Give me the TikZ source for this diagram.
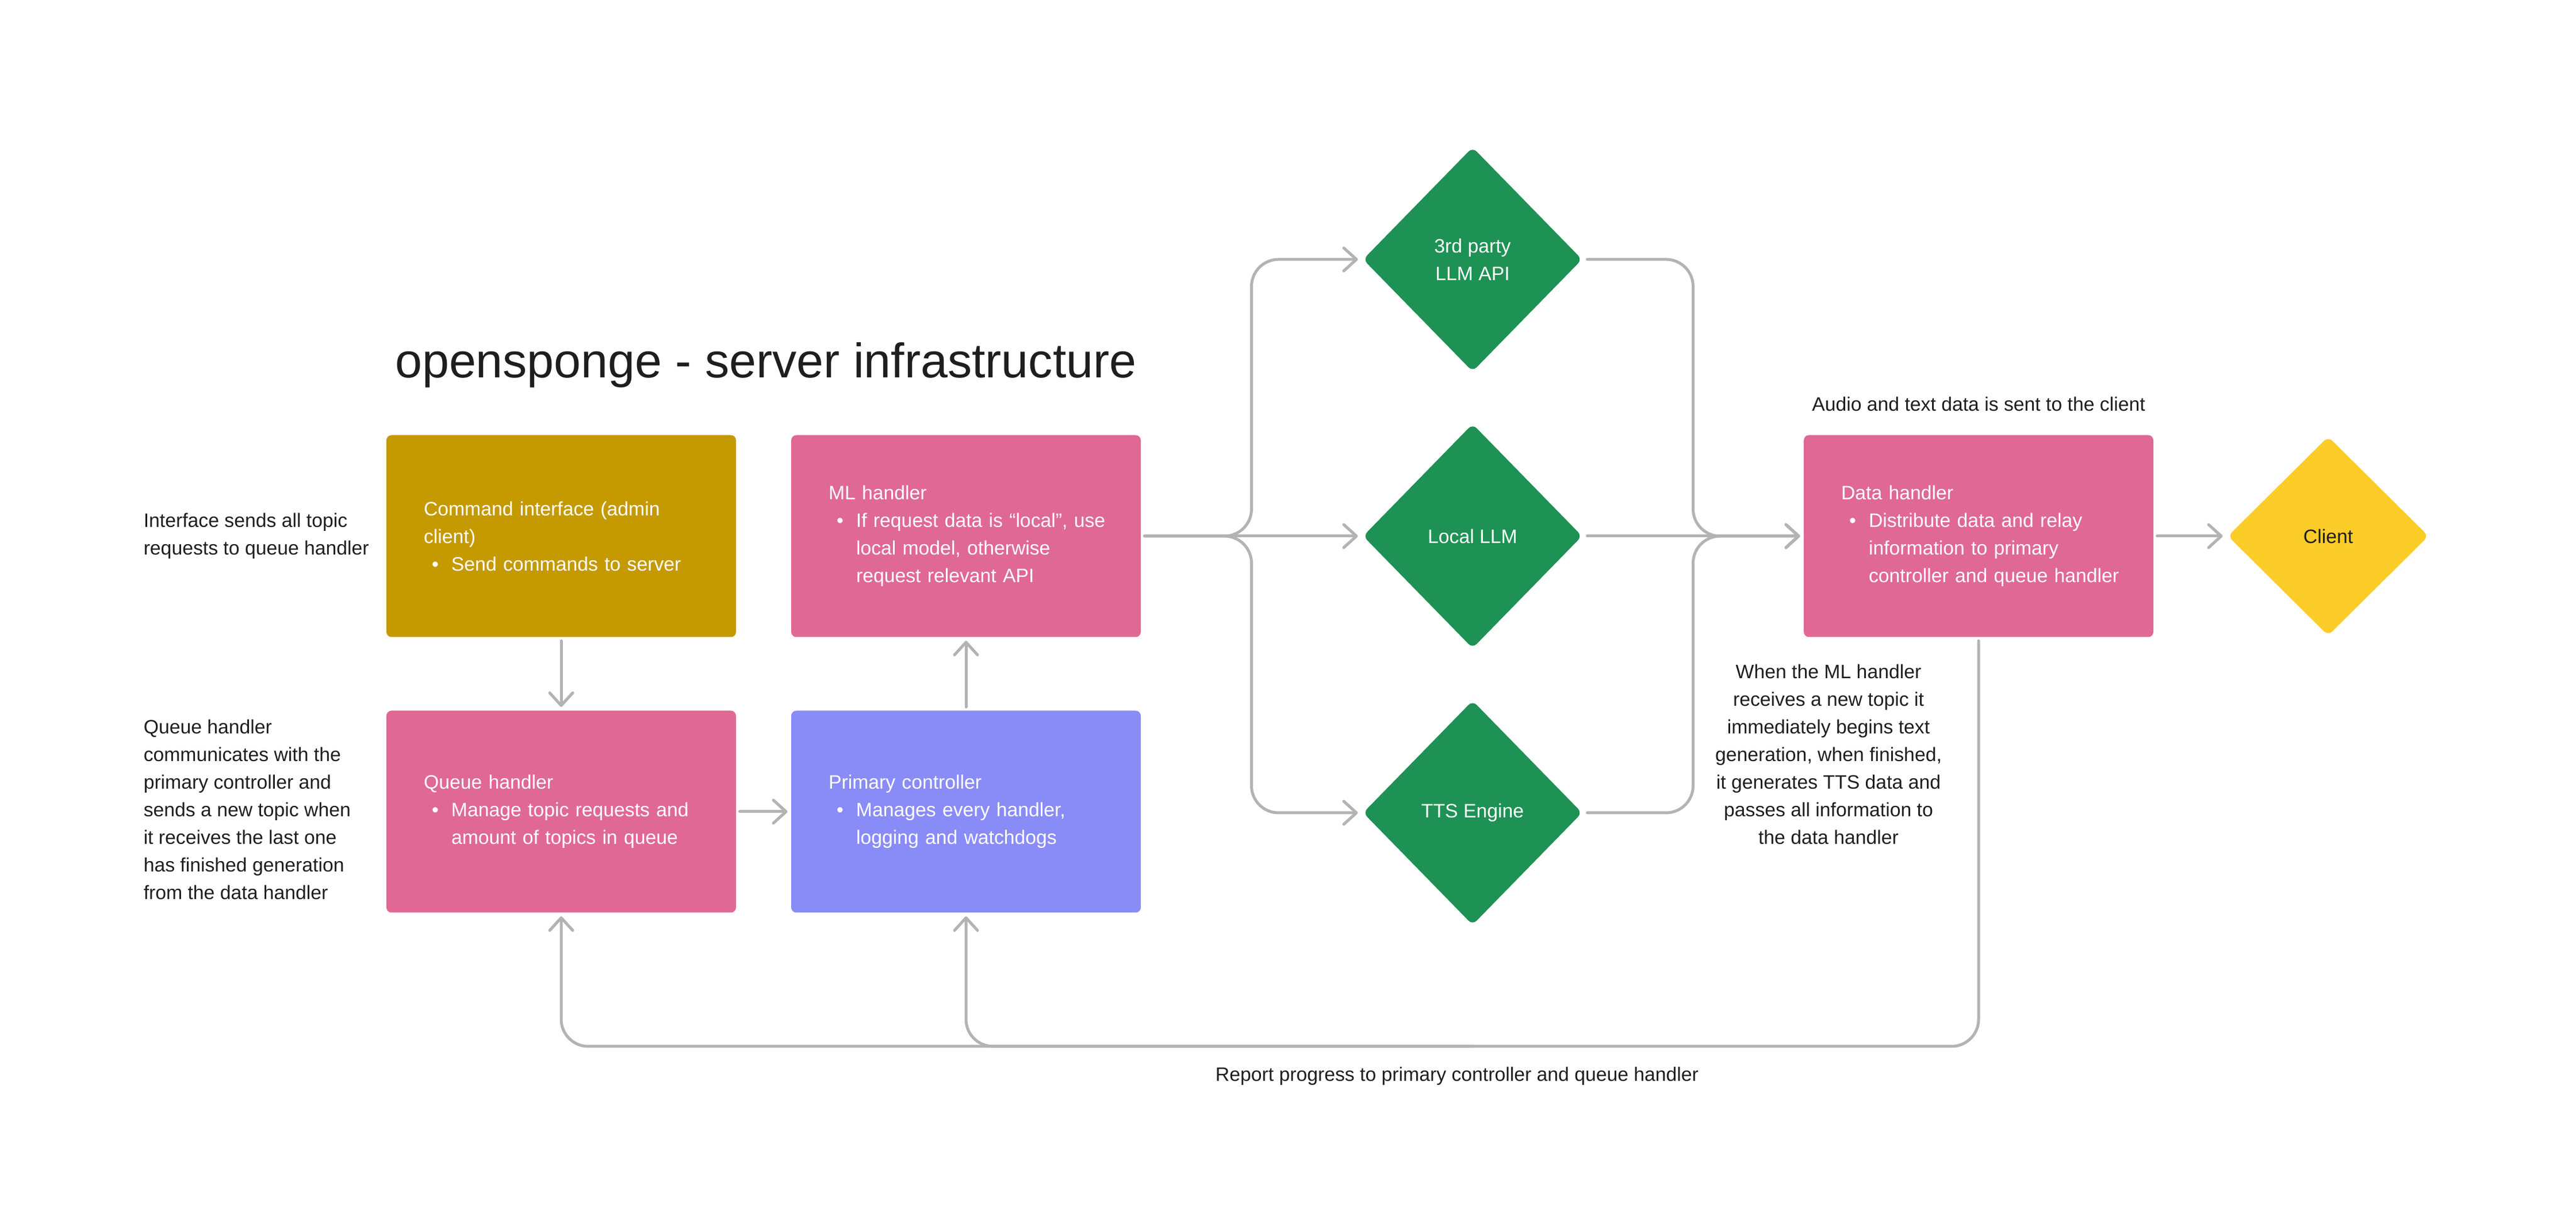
\documentclass[tikz,border=0pt]{standalone}
\usepackage{fontspec}
\setmainfont{Liberation Sans}
\usepackage{tikz}
\usetikzlibrary{positioning,arrows.meta,shapes.geometric}
\definecolor{fontdark}{RGB}{30,30,30}
\definecolor{cmdgold}{RGB}{197,153,0}
\definecolor{handlerpink}{RGB}{224,104,148}
\definecolor{ctrlviolet}{RGB}{137,140,246}
\definecolor{modelgreen}{RGB}{30,145,84}
\definecolor{clientyellow}{RGB}{252,204,41}
\definecolor{linegray}{RGB}{179,179,179}
\newcommand{\bitem}[1]{\par\noindent\hspace*{1.4mm}\makebox[3.4mm][l]{\textbullet}\parbox[t]{45mm}{#1}\par}

\begin{document}
\begin{tikzpicture}[node distance=8.3mm and 8.3mm,
			box/.style={rectangle, rounded corners=0.9mm, minimum width=60.8mm, minimum height=35.1mm, text width=47.8mm, align=left, inner sep=0pt, outer sep=0.65mm, text=white, font=\fontsize{9.6}{13.66}\selectfont},
			model/.style={diamond, rounded corners=1mm, minimum width=38.6mm, minimum height=39.5mm, inner sep=0pt, outer sep=0.65mm, fill=modelgreen, text=white, align=center, font=\fontsize{9.6}{13.66}\selectfont},
			note/.style={draw=none, inner sep=0pt, text=fontdark, align=left, font=\fontsize{9.6}{13.66}\selectfont},
			heading/.style={draw=none, inner sep=0pt, text=fontdark, font=\fontsize{24}{28}\selectfont},
			flow/.style={draw=linegray, line width=0.5mm, line cap=round, rounded corners=4.7mm, -{Straight Barb[length=2.2mm, width=4mm, round]}}
			]
			\useasboundingbox (0,0) rectangle (448mm,214mm);
			
			\node[box, fill=cmdgold](cmd) at (97.6mm,120.8mm) {Command interface (admin\\client)\par\bitem{Send commands to server}};
			\node[box, fill=handlerpink](ml) [right = of cmd] {ML handler\par\bitem{If request data is “local”, use\\local model, otherwise\\request relevant API}};
			\node[box, fill=handlerpink](queue) [below = 11.5mm of cmd] {Queue handler\par\bitem{Manage topic requests and\\amount of topics in queue}};
			\node[box, fill=ctrlviolet](primary) [right = of queue] {Primary controller\par\bitem{Manages every handler,\\logging and watchdogs}};
			
			\node[heading, anchor=base west](title) at ([xshift=2.1mm, yshift=9.3mm]cmd.north west) {opensponge - server infrastructure};
			
			\node[model](local) [right = 37.1mm of ml] {Local LLM};
			\node[model](api) [above = 7.3mm of local] {3rd party\\LLM API};
			\node[model](tts) [below = 7.3mm of local] {TTS Engine};
			
			\node[box, fill=handlerpink](data) [right = 37.0mm of local] {Data handler\par\bitem{Distribute data and relay\\information to primary\\controller and queue handler}};
			\node[model, fill=clientyellow, text=fontdark, minimum width=35.4mm, minimum height=35.1mm](client) [right = 11.4mm of data] {Client};
			
			% notes
			\node[note](noteCmd) [left = 2.3mm of cmd] {Interface sends all topic\\requests to queue handler};
			\node[note, anchor=west](noteQueue) at ([yshift=0.4mm]noteCmd.west |- queue) {Queue handler\\communicates with the\\primary controller and\\sends a new topic when\\it receives the last one\\has finished generation\\from the data handler};
			\node[note](noteAudio) [above = 3.4mm of data] {Audio and text data is sent to the client};
			\node[note, align=center, xshift=-26.1mm](noteMl) [below = 4.0mm of data] {When the ML handler\\receives a new topic it\\immediately begins text\\generation, when finished,\\it generates TTS data and\\passes all information to\\the data handler};
			
			% junctions
			\coordinate[right = 18.6mm of ml.east](fanL);
			\coordinate[right = 18.4mm of local.east](fanR);
			\coordinate (retR) at ([yshift=-70.5mm]data.south);
			\coordinate (retM) at (tts |- retR);
			
			\node[note](noteReport) at ([xshift=-2.7mm, yshift=-5.2mm]retM) {Report progress to primary controller and queue handler};
			
			\draw[flow] (cmd) -- (queue);
			\draw[flow] (queue) -- (primary);
			\draw[flow] (primary) -- (ml);
			
			\draw[flow] (ml.east) -- (fanL) |- (api.west);
			\draw[flow] (ml.east) -- (local.west);
			\draw[flow] (ml.east) -- (fanL) |- (tts.west);
			
			\draw[flow] (api.east) -| (fanR) -- (data.west);
			\draw[flow] (local.east) -- (data.west);
			\draw[flow] (tts.east) -| (fanR) -- (data.west);
			
			\draw[flow] (data) -- (client);
			
			\draw[flow] (data.south) -- (retR) -| (queue.south);
			\draw[flow] (retM) -| (primary.south);
			
\end{tikzpicture}
\end{document}
